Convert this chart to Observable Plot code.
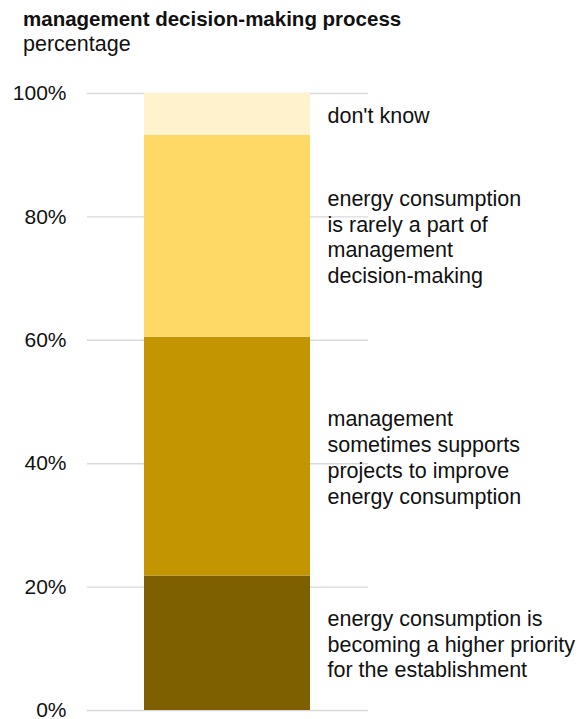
<!DOCTYPE html>
<html>
<head>
<meta charset="utf-8">
<script src="https://cdn.jsdelivr.net/npm/d3@7"></script>
<script src="https://cdn.jsdelivr.net/npm/@observablehq/plot@0.6"></script>
<style>
  html, body { margin: 0; padding: 0; background: #fff; }
  body { width: 584px; height: 719px; position: relative; overflow: hidden; font-family: "Liberation Sans", Arial, sans-serif; color: #111; }
  .title { position: absolute; left: 23px; top: 9px; font-size: 20.5px; line-height: 1; font-weight: bold; white-space: nowrap; }
  .subtitle { position: absolute; left: 23px; top: 34px; font-size: 21.5px; line-height: 1; white-space: nowrap; }
  #chart { position: absolute; left: 0; top: 60px; }
  #chart svg { overflow: visible; }
</style>
</head>
<body>
<div class="title">management decision-making process</div>
<div class="subtitle">percentage</div>
<div id="chart"></div>
<script>
const categories = ["all"];
const answers = [
  "energy consumption is becoming a higher priority for the establishment",
  "management sometimes supports projects to improve energy consumption",
  "energy consumption is rarely a part of management decision-making",
  "don't know"
];
const labelLines = [
  "energy consumption is\nbecoming a higher priority\nfor the establishment",
  "management\nsometimes supports\nprojects to improve\nenergy consumption",
  "energy consumption\nis rarely a part of\nmanagement\ndecision-making",
  "don't know"
];
const shares = [21.8, 38.7, 32.7, 6.8];
const colors = ["#7F6000", "#C39500", "#FFD966", "#FFF2CC"];
const yTicks = [0, 20, 40, 60, 80, 100];

const data = answers.map((a, i) => ({cat: categories[0], answer: a, label: labelLines[i], share: shares[i]}));

const chart = Plot.plot({
  width: 584,
  height: 659,
  marginTop: 33,
  marginBottom: 9,
  marginLeft: 87,
  marginRight: 216,
  style: {fontFamily: '"Liberation Sans", Arial, sans-serif', fontSize: "21px", color: "#111", background: "#fff", overflow: "visible"},
  x: {type: "band", domain: categories, padding: 0.255, axis: null},
  y: {domain: [0, 100], ticks: yTicks, tickFormat: d => d + "%", tickSize: 0, tickPadding: 21, label: null},
  color: {domain: answers, range: colors},
  marks: [
    Plot.ruleY(yTicks, {stroke: "#d9d9d9", strokeWidth: 1.4}),
    Plot.barY(data, {x: "cat", y: "share", fill: "answer", order: null}),
    Plot.text(data, Plot.stackY({x: "cat", y: "share", order: null, text: "label", textAnchor: "start", dx: 100, lineAnchor: "middle", lineHeight: 1.2, fontSize: 21.5, fill: "#111"}))
  ]
});
document.getElementById("chart").appendChild(chart);
</script>
</body>
</html>
